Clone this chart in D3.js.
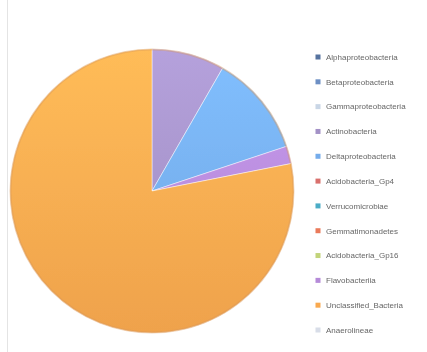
<!DOCTYPE html>
<html>
<head>
<meta charset="utf-8">
<script src="https://cdn.jsdelivr.net/npm/d3@7"></script>
<style>
  html, body { margin: 0; padding: 0; background: #fff; }
  svg { display: block; }
</style>
</head>
<body>
<svg id="chart" width="427" height="352"></svg>
<script>
// Class-level shares (percent of reads)
const categories = [
  "Alphaproteobacteria", "Betaproteobacteria", "Gammaproteobacteria", "Actinobacteria",
  "Deltaproteobacteria", "Acidobacteria_Gp4", "Verrucomicrobiae", "Gemmatimonadetes",
  "Acidobacteria_Gp16", "Flavobacteriia", "Unclassified_Bacteria", "Anaerolineae"
];
const values = [0, 0, 0, 8.3, 11.6, 0, 0, 0, 0, 2.0, 78.1, 0];
const colors = [
  "#56739f", "#6d8fc4", "#c9d6e6", "#a391c6",
  "#74aceb", "#d9706d", "#4bacc6", "#ea7a5a",
  "#c2d47a", "#b58ad8", "#f9a94f", "#d8dde8"
];

const svg = d3.select("#chart");
const cx = 152, cy = 191, R = 142;

const data = categories.map((c, i) => ({ name: c, value: values[i], color: colors[i] }));

const defs = svg.append("defs");
// Per-slice vertical gradient: lighter at the top, deeper toward the bottom
data.forEach((d, i) => {
  const base = d3.color(d.color);
  const g = defs.append("linearGradient")
    .attr("id", "g" + i)
    .attr("gradientUnits", "userSpaceOnUse")
    .attr("x1", 0).attr("y1", -R).attr("x2", 0).attr("y2", R);
  g.append("stop").attr("offset", "0%").attr("stop-color", base.brighter(0.3));
  g.append("stop").attr("offset", "100%").attr("stop-color", base.darker(0.12));
});
const soft = defs.append("filter").attr("id", "soft")
  .attr("x", "-5%").attr("y", "-5%").attr("width", "110%").attr("height", "110%");
soft.append("feGaussianBlur").attr("stdDeviation", 0.7);

// Faint frame line on the left
svg.append("line")
  .attr("x1", 7.5).attr("x2", 7.5).attr("y1", 0).attr("y2", 352)
  .attr("stroke", "#e4e4e4").attr("stroke-width", 1);

const pie = d3.pie().value(d => d.value).sort(null);
const arc = d3.arc().innerRadius(0).outerRadius(R);

const g = svg.append("g")
  .attr("transform", `translate(${cx},${cy})`)
  .attr("filter", "url(#soft)");

g.selectAll("path.slice")
  .data(pie(data).filter(a => a.data.value > 0))
  .join("path")
  .attr("class", "slice")
  .attr("d", arc)
  .attr("fill", a => `url(#g${data.indexOf(a.data)})`)
  .attr("stroke", "rgba(255,255,255,0.45)")
  .attr("stroke-width", 1);

// Soft rim around the pie
g.append("circle")
  .attr("r", R - 0.5)
  .attr("fill", "none")
  .attr("stroke", "rgba(215,150,90,0.4)")
  .attr("stroke-width", 2);

// Legend
const legendY = d3.scalePoint()
  .domain(categories)
  .range([57, 330]);

const lg = svg.append("g").attr("filter", "url(#soft)");
const item = lg.selectAll("g.item")
  .data(data)
  .join("g")
  .attr("class", "item")
  .attr("transform", d => `translate(318,${legendY(d.name)})`);

item.append("rect")
  .attr("x", -2.5).attr("y", -2.5)
  .attr("width", 5).attr("height", 5)
  .attr("fill", d => d.color);

item.append("text")
  .attr("x", 8)
  .attr("y", 0)
  .attr("dy", "0.35em")
  .attr("font-family", "Liberation Sans, Arial, sans-serif")
  .attr("font-size", 8)
  .attr("fill", "#666")
  .text(d => d.name);
</script>
</body>
</html>
